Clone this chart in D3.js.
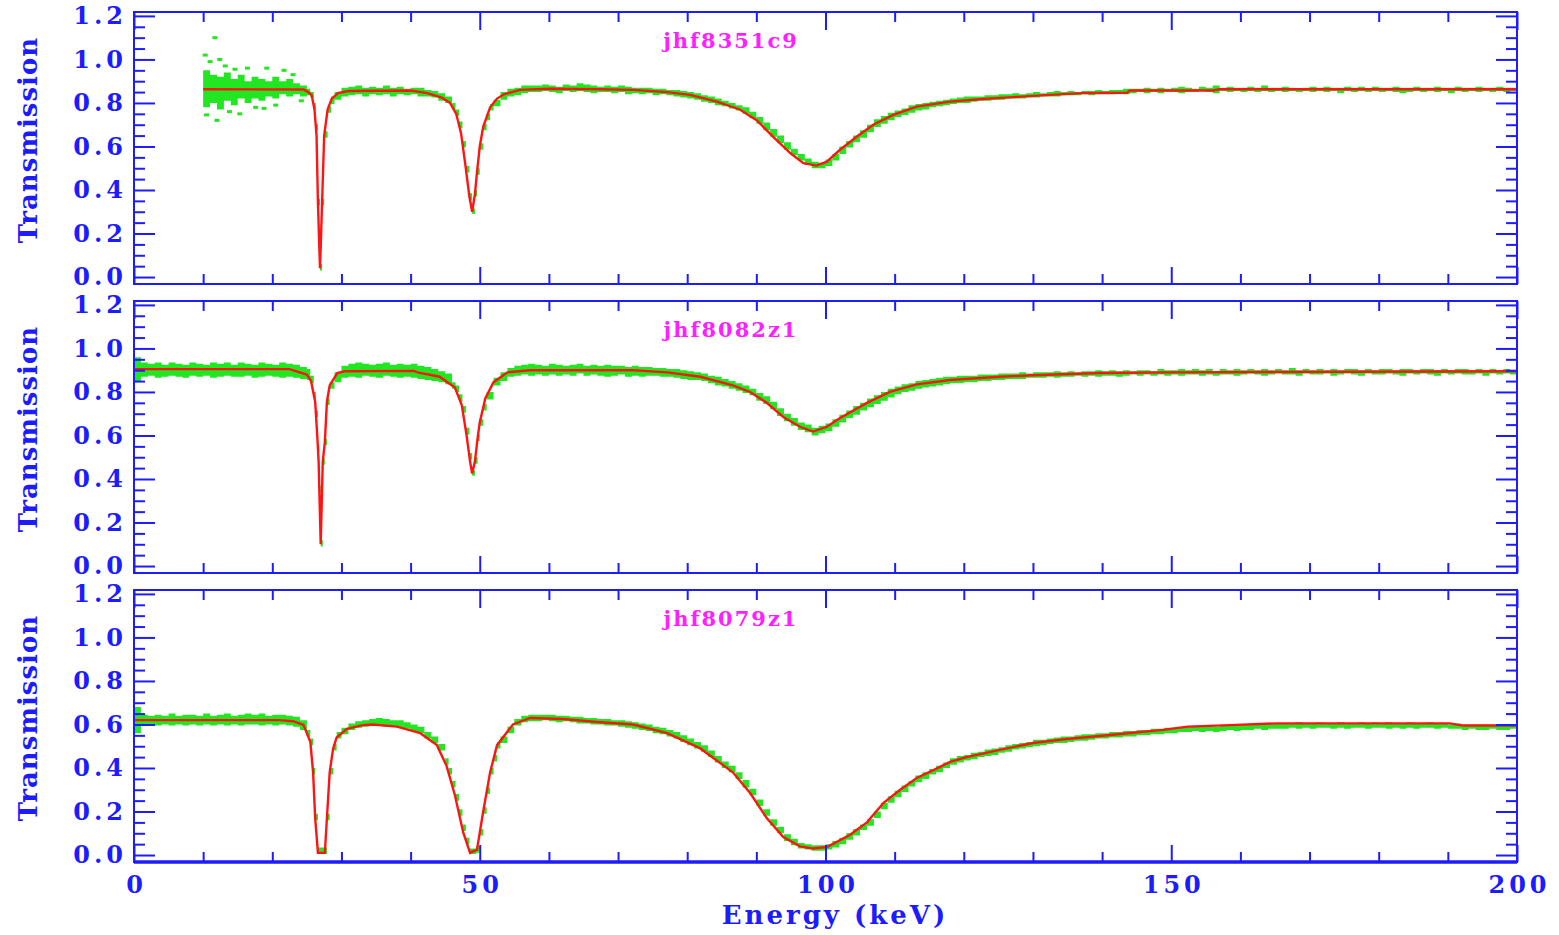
<!DOCTYPE html>
<html>
<head>
<meta charset="utf-8">
<script src="https://cdn.jsdelivr.net/npm/d3@7"></script>
<style>
body { margin: 0; background: #fff; }
svg { display: block; }
</style>
</head>
<body>
<script>

// tick labels and run names
var energyTicks = [0, 50, 100, 150, 200];
var transTicks = [0, 0.2, 0.4, 0.6, 0.8, 1.0, 1.2];
var runNames = ["jhf8351c9", "jhf8082z1", "jhf8079z1"];

// fitted model curves [energy keV, transmission]
var model1 = [[10,.863],[24.5,.862],[25.2,.85],[25.7,.835],[26.1,.77],[26.4,.65],[26.6,.34],[26.9,.04],[27.2,.34],[27.5,.65],[28.0,.77],[28.6,.82],[29.5,.845],[31,.855],[40,.857],[42.4,.845],[44.5,.825],[45.7,.80],[46.6,.75],[47.3,.66],[47.9,.52],[48.5,.37],[48.9,.30],[49.3,.38],[49.6,.48],[50,.60],[50.5,.69],[51.5,.78],[52.5,.82],[53.5,.84],[55.8,.86],[60,.865],[67.4,.863],[72.2,.86],[77.1,.85],[80.4,.837],[84.3,.806],[87.6,.77],[90.1,.72],[92.4,.645],[94.9,.57],[96.8,.523],[98.7,.512],[100.2,.53],[102.1,.585],[104.5,.645],[106.9,.70],[109.8,.745],[113.2,.783],[118,.806],[122.8,.818],[127.7,.828],[132.5,.837],[137.2,.845],[143.6,.847],[144,.857],[156,.857],[157,.863],[200,.863]];

var model2 = [[0,.905],[22.5,.905],[23.5,.895],[25.0,.88],[25.6,.85],[26.2,.755],[26.5,.60],[26.7,.48],[27.0,.10],[27.3,.48],[27.6,.57],[27.9,.755],[28.3,.83],[29.4,.887],[30.5,.895],[40.5,.897],[41,.89],[44.2,.87],[46.4,.82],[47.4,.74],[48.1,.60],[48.6,.48],[48.9,.425],[49.3,.48],[49.7,.59],[50.0,.66],[50.8,.77],[52,.845],[54,.89],[57.3,.90],[67.4,.90],[72.2,.90],[77.1,.89],[81.9,.87],[86.6,.83],[89.1,.80],[91.5,.75],[93.9,.685],[96.3,.64],[98.2,.618],[100.2,.64],[102.1,.68],[106,.75],[109.3,.80],[113.2,.835],[118,.855],[125.2,.87],[130,.877],[139.7,.887],[150,.89],[175,.893],[200,.895]];

var model3 = [[0,.62],[21,.62],[23,.615],[24.5,.598],[25.5,.52],[25.9,.38],[26.2,.17],[26.6,.01],[27.6,.01],[27.9,.17],[28.3,.38],[28.8,.49],[29.3,.54],[30.8,.58],[33.1,.597],[34.5,.60],[38,.59],[41.4,.56],[43.8,.505],[45.2,.41],[46.4,.276],[47.6,.105],[48.6,.01],[49.6,.025],[50.5,.20],[51.5,.38],[52.5,.505],[54.8,.60],[57.3,.63],[62,.625],[67.4,.61],[72.2,.60],[77.1,.56],[81.9,.49],[86.6,.38],[89.1,.285],[91.5,.17],[93.9,.083],[96.3,.04],[98.2,.03],[100.2,.037],[103.5,.092],[106,.15],[108.4,.24],[110.8,.30],[113.2,.354],[115.6,.39],[118,.428],[120.4,.45],[125.2,.483],[130,.515],[134.9,.533],[139.7,.547],[142.6,.556],[148.8,.575],[152.4,.59],[157.5,.596],[165.3,.605],[190.3,.605],[192.2,.595],[200,.595]];

// measured points: spread of the data at each energy [energy, low, high]
var band1 = [[10,.78,.95],[11,.80,.93],[12,.77,.92],[13,.81,.94],[14,.79,.91],[15,.82,.93],[16,.80,.90],[17,.82,.92],[18,.81,.91],[19,.83,.90],[20,.82,.92],[21,.84,.90],[22,.83,.91],[23,.84,.89],[24,.83,.88],[25,.835,.865],[25.5,.825,.85],[26,.77,.80],[26.3,.675,.705],[26.6,.33,.36],[26.9,.03,.06],[27.2,.33,.36],[27.5,.64,.67],[28,.755,.785],[28.5,.795,.83],[29,.815,.85],[30,.83,.87],[31,.835,.875],[32,.84,.88],[33,.83,.87],[34,.84,.875],[35,.835,.87],[36,.84,.88],[37,.83,.87],[38,.84,.875],[39,.835,.865],[40,.84,.87],[41,.83,.87],[42,.83,.86],[43,.825,.855],[44,.81,.845],[45,.80,.83],[46,.77,.80],[46.5,.74,.77],[47,.685,.715],[47.5,.595,.625],[48,.48,.51],[48.5,.355,.385],[48.9,.29,.315],[49.3,.37,.40],[49.6,.47,.50],[50,.585,.615],[50.5,.675,.705],[51,.72,.75],[51.5,.765,.795],[52,.785,.815],[53,.815,.85],[54,.83,.865],[55,.835,.87],[56,.845,.88],[57,.85,.88],[58,.85,.88],[59,.855,.885],[60,.85,.88],[61,.845,.875],[62,.855,.885],[63,.85,.88],[64,.855,.89],[65,.85,.885],[66,.845,.88],[67,.85,.875],[68,.85,.88],[69,.845,.875],[70,.85,.88],[71,.84,.875],[72,.845,.87],[73,.84,.87],[74,.845,.87],[75,.835,.865],[76,.84,.865],[77,.835,.86],[78,.83,.86],[79,.825,.855],[80,.82,.85],[81,.815,.845],[82,.805,.835],[83,.80,.83],[84,.79,.82],[85,.785,.81],[86,.775,.80],[87,.765,.79],[88,.75,.78],[89,.73,.76],[90,.705,.735],[91,.675,.71],[92,.645,.68],[93,.615,.65],[94,.585,.62],[95,.56,.59],[96,.535,.565],[97,.515,.545],[98,.50,.53],[99,.50,.525],[100,.51,.54],[101,.535,.565],[102,.565,.60],[103,.595,.625],[104,.62,.65],[105,.64,.675],[106,.665,.70],[107,.69,.725],[108,.705,.74],[109,.72,.755],[110,.735,.765],[111,.745,.775],[112,.755,.79],[113,.765,.795],[114,.77,.80],[115,.78,.805],[116,.785,.81],[117,.79,.815],[118,.795,.82],[119,.80,.825],[120,.80,.83],[121,.805,.83],[122,.81,.83],[123,.81,.835],[124,.815,.835],[125,.815,.84],[126,.82,.84],[127,.82,.845],[128,.82,.84],[129,.825,.845],[130,.825,.85],[131,.83,.845],[132,.83,.85],[133,.83,.855],[134,.835,.85],[135,.835,.855],[136,.835,.85],[137,.84,.855],[138,.835,.855],[139,.84,.86],[140,.84,.855],[141,.84,.86],[142,.845,.86],[143,.84,.865],[144,.845,.865],[145,.85,.865],[146,.845,.87],[147,.85,.865],[148,.845,.87],[149,.85,.865],[150,.85,.87],[151,.845,.875],[152,.85,.87],[153,.85,.865],[154,.855,.875],[155,.85,.87],[156,.845,.88],[157,.855,.87],[158,.85,.875],[159,.855,.87],[160,.85,.87],[161,.855,.875],[162,.85,.87],[163,.855,.88],[164,.85,.87],[165,.855,.87],[166,.85,.875],[167,.855,.87],[168,.85,.865],[169,.855,.87],[170,.85,.875],[171,.855,.87],[172,.85,.875],[173,.855,.87],[174,.845,.87],[175,.855,.875],[176,.85,.87],[177,.855,.875],[178,.85,.865],[179,.855,.875],[180,.85,.87],[181,.855,.87],[182,.85,.875],[183,.845,.87],[184,.85,.87],[185,.855,.875],[186,.85,.87],[187,.855,.87],[188,.85,.875],[189,.855,.87],[190,.845,.87],[191,.855,.875],[192,.85,.87],[193,.855,.87],[194,.85,.875],[195,.855,.87],[196,.85,.87],[197,.855,.875],[198,.85,.87],[199,.855,.87],[200,.85,.87]];

var band2 = [[0,.85,.96],[1,.87,.935],[2,.875,.93],[3,.865,.935],[4,.87,.925],[5,.875,.935],[6,.87,.93],[7,.865,.925],[8,.875,.935],[9,.87,.93],[10,.875,.925],[11,.865,.935],[12,.87,.93],[13,.875,.935],[14,.87,.925],[15,.87,.935],[16,.875,.93],[17,.865,.925],[18,.87,.935],[19,.875,.93],[20,.87,.925],[21,.865,.935],[22,.87,.93],[23,.865,.925],[24,.86,.915],[25,.855,.905],[25.5,.84,.875],[26,.77,.80],[26.3,.685,.715],[26.6,.525,.555],[26.8,.34,.37],[27.0,.09,.12],[27.3,.465,.495],[27.6,.555,.585],[27.9,.74,.77],[28.3,.815,.845],[29,.845,.89],[30,.865,.92],[31,.87,.93],[32,.865,.935],[33,.875,.93],[34,.87,.925],[35,.865,.93],[36,.875,.935],[37,.87,.925],[38,.865,.93],[39,.87,.925],[40,.865,.93],[41,.86,.92],[42,.855,.915],[43,.85,.905],[44,.845,.895],[45,.835,.885],[46,.815,.845],[46.5,.80,.83],[47,.755,.79],[47.5,.705,.735],[48,.605,.635],[48.5,.49,.52],[48.9,.415,.44],[49.3,.47,.50],[49.7,.575,.605],[50,.645,.675],[50.5,.715,.745],[51,.765,.80],[52,.83,.865],[53,.85,.89],[54,.87,.91],[55,.875,.92],[56,.88,.925],[57,.875,.93],[58,.88,.925],[59,.875,.92],[60,.88,.93],[61,.875,.925],[62,.88,.92],[63,.875,.925],[64,.885,.93],[65,.875,.92],[66,.88,.925],[67,.875,.92],[68,.87,.925],[69,.875,.92],[70,.88,.92],[71,.87,.915],[72,.875,.92],[73,.87,.915],[74,.875,.915],[75,.875,.91],[76,.87,.91],[77,.87,.905],[78,.865,.905],[79,.86,.90],[80,.855,.895],[81,.855,.89],[82,.85,.885],[83,.84,.875],[84,.83,.87],[85,.825,.86],[86,.815,.85],[87,.805,.84],[88,.795,.83],[89,.785,.815],[90,.76,.795],[91,.745,.78],[92,.72,.755],[93,.69,.725],[94,.665,.70],[95,.645,.68],[96,.625,.66],[97,.615,.65],[98,.60,.635],[99,.61,.645],[100,.62,.655],[101,.64,.675],[102,.66,.695],[103,.68,.715],[104,.695,.735],[105,.715,.75],[106,.73,.77],[107,.745,.785],[108,.76,.80],[109,.775,.815],[110,.79,.825],[111,.80,.835],[112,.805,.84],[113,.815,.85],[114,.82,.855],[115,.825,.86],[116,.83,.865],[117,.835,.87],[118,.84,.87],[119,.84,.875],[120,.845,.875],[121,.845,.875],[122,.85,.88],[123,.85,.88],[124,.855,.88],[125,.855,.885],[126,.86,.885],[127,.86,.885],[128,.86,.89],[129,.865,.885],[130,.865,.89],[131,.865,.89],[132,.87,.89],[133,.865,.895],[134,.87,.89],[135,.87,.895],[136,.875,.89],[137,.87,.895],[138,.875,.895],[139,.87,.90],[140,.875,.895],[141,.875,.90],[142,.87,.895],[143,.875,.90],[144,.88,.895],[145,.875,.90],[146,.88,.90],[147,.875,.895],[148,.88,.905],[149,.875,.90],[150,.88,.90],[151,.875,.905],[152,.88,.90],[153,.88,.905],[154,.875,.90],[155,.88,.905],[156,.875,.895],[157,.88,.905],[158,.88,.90],[159,.875,.905],[160,.88,.90],[161,.885,.905],[162,.88,.90],[163,.875,.905],[164,.88,.90],[165,.885,.905],[166,.88,.90],[167,.88,.91],[168,.875,.90],[169,.885,.905],[170,.88,.90],[171,.88,.905],[172,.885,.90],[173,.875,.905],[174,.88,.90],[175,.885,.905],[176,.88,.905],[177,.875,.90],[178,.885,.905],[179,.88,.90],[180,.88,.905],[181,.885,.905],[182,.88,.90],[183,.875,.905],[184,.885,.905],[185,.88,.90],[186,.885,.905],[187,.88,.905],[188,.875,.90],[189,.885,.905],[190,.88,.90],[191,.885,.905],[192,.88,.905],[193,.88,.90],[194,.885,.905],[195,.875,.90],[196,.885,.905],[197,.88,.90],[198,.885,.905],[199,.88,.90],[200,.88,.905]];

var band3 = [[0,.56,.68],[1,.595,.645],[2,.60,.64],[3,.595,.645],[4,.60,.64],[5,.595,.65],[6,.60,.64],[7,.595,.645],[8,.60,.645],[9,.595,.64],[10,.60,.65],[11,.595,.64],[12,.60,.645],[13,.595,.65],[14,.60,.64],[15,.595,.645],[16,.60,.65],[17,.60,.645],[18,.595,.65],[19,.60,.64],[20,.595,.645],[21,.60,.645],[22,.595,.64],[23,.59,.635],[24,.575,.62],[25,.545,.575],[25.5,.505,.535],[25.9,.37,.40],[26.2,.16,.19],[26.6,.005,.035],[27.0,.005,.035],[27.4,.005,.035],[27.9,.16,.19],[28.3,.37,.40],[28.8,.48,.51],[29.3,.535,.565],[30,.555,.585],[31,.575,.605],[32,.585,.615],[33,.59,.62],[34,.595,.625],[35,.595,.63],[36,.59,.625],[37,.59,.62],[38,.585,.62],[39,.58,.61],[40,.57,.60],[41,.56,.59],[42,.535,.565],[43,.515,.545],[44,.48,.51],[45,.415,.445],[45.5,.37,.40],[46,.31,.34],[46.5,.25,.28],[47,.18,.21],[47.5,.11,.14],[48,.05,.08],[48.5,.005,.03],[49,.005,.03],[49.5,.01,.04],[50,.09,.12],[50.5,.19,.22],[51,.28,.31],[51.5,.37,.40],[52,.43,.46],[52.5,.49,.52],[53,.515,.545],[54,.56,.59],[55,.595,.625],[56,.61,.64],[57,.615,.645],[58,.615,.645],[59,.62,.645],[60,.615,.645],[61,.61,.64],[62,.615,.64],[63,.61,.635],[64,.605,.635],[65,.605,.63],[66,.60,.63],[67,.60,.625],[68,.595,.625],[69,.595,.62],[70,.59,.62],[71,.585,.615],[72,.58,.61],[73,.575,.605],[74,.57,.60],[75,.56,.59],[76,.555,.585],[77,.545,.575],[78,.535,.565],[79,.52,.55],[80,.505,.535],[81,.49,.52],[82,.475,.505],[83,.45,.48],[84,.425,.455],[85,.40,.43],[86,.38,.41],[87,.35,.38],[88,.31,.345],[89,.275,.305],[90,.225,.255],[91,.18,.21],[92,.135,.165],[93,.10,.13],[94,.065,.095],[95,.045,.075],[96,.03,.055],[97,.025,.05],[98,.02,.045],[99,.02,.045],[100,.025,.05],[101,.035,.065],[102,.05,.08],[103,.07,.10],[104,.09,.12],[105,.115,.14],[106,.135,.165],[107,.17,.20],[108,.21,.24],[109,.24,.27],[110,.265,.295],[111,.29,.32],[112,.315,.34],[113,.335,.365],[114,.35,.38],[115,.37,.395],[116,.38,.41],[117,.40,.425],[118,.415,.445],[119,.425,.455],[120,.435,.46],[121,.44,.47],[122,.45,.475],[123,.455,.485],[124,.46,.49],[125,.47,.495],[126,.475,.505],[127,.485,.51],[128,.49,.515],[129,.495,.52],[130,.50,.53],[131,.505,.53],[132,.51,.535],[133,.515,.54],[134,.515,.545],[135,.52,.545],[136,.525,.55],[137,.525,.555],[138,.53,.555],[139,.535,.56],[140,.535,.56],[141,.54,.565],[142,.54,.565],[143,.545,.57],[144,.545,.57],[145,.55,.575],[146,.55,.575],[147,.555,.58],[148,.555,.58],[149,.56,.585],[150,.56,.585],[151,.565,.585],[152,.565,.59],[153,.57,.59],[154,.565,.59],[155,.57,.595],[156,.565,.59],[157,.57,.595],[158,.575,.595],[159,.57,.60],[160,.575,.60],[161,.575,.60],[162,.58,.60],[163,.575,.60],[164,.58,.605],[165,.58,.605],[166,.58,.605],[167,.585,.605],[168,.58,.61],[169,.585,.605],[170,.58,.605],[171,.585,.61],[172,.585,.605],[173,.58,.605],[174,.585,.61],[175,.58,.605],[176,.585,.605],[177,.585,.61],[178,.58,.605],[179,.585,.61],[180,.585,.605],[181,.58,.61],[182,.585,.605],[183,.58,.605],[184,.585,.61],[185,.58,.605],[186,.585,.605],[187,.585,.61],[188,.58,.605],[189,.585,.605],[190,.58,.60],[191,.58,.605],[192,.575,.60],[193,.58,.60],[194,.575,.60],[195,.575,.60],[196,.58,.60],[197,.575,.595],[198,.575,.60],[199,.58,.60],[200,.575,.60]];

// isolated noisy points at low energy in the first run
var scatter1 = [[10.3,1.02],[10.5,.745],[11.7,1.10],[12,.72],[12.4,1.0],[13.2,.97],[13.8,.76],[15.3,.75],[16.4,.96],[17.6,.78],[19.2,.96],[20.5,.79],[21.7,.95],[23,.93],[24.2,.81],[11,.99],[14.6,.955],[18.8,.775]];

var width = 1559,
    height = 935,
    left = 134,
    right = 1517,
    panelH = 272;

var panelTop = [12, 301, 590];

var blue = "#1c1cff",
    green = "#22e622",
    red = "#ff1414",
    magenta = "#ff20ff",
    font = "'DejaVu Serif', serif";

const svg = d3.select("body")
    .append("svg")
    .attr("width", width)
    .attr("height", height);

const x = d3.scaleLinear().domain([0, 200]).range([left, right]);

var minorX = d3.range(0, 201, 10).filter(d => d % 50 != 0);
var minorY = d3.range(0, 25).map(d => d * 0.05).filter((d, i) => i % 4 != 0);

var panels = [
    {name: runNames[0], model: model1, band: band1, extra: scatter1},
    {name: runNames[1], model: model2, band: band2, extra: []},
    {name: runNames[2], model: model3, band: band3, extra: []}
];

function styleTicks(g) {
    g.select(".domain").remove();
    g.selectAll("line").attr("stroke", blue).attr("stroke-width", 2);
}

function styleLabels(g) {
    g.select(".domain").remove();
    g.selectAll("line").remove();
    g.selectAll("text")
        .style("font-family", font)
        .style("font-size", "24px")
        .style("font-weight", "bold")
        .style("letter-spacing", "4px")
        .attr("fill", blue);
}

panels.forEach(function(p, i) {
    var top = panelTop[i],
        bottom = top + panelH;

    const y = d3.scaleLinear().domain([-0.032, 1.218]).range([bottom, top]);
    const g = svg.append("g");

    g.append("clipPath").attr("id", "clip" + i)
        .append("rect")
        .attr("x", left).attr("y", top)
        .attr("width", right - left).attr("height", panelH);

    const plot = g.append("g").attr("clip-path", "url(#clip" + i + ")");

    // data spread
    const area = d3.area()
        .curve(d3.curveStepAfter)
        .x(d => x(d[0]))
        .y0(d => y(d[1]))
        .y1(d => y(d[2]));

    plot.append("path")
        .datum(p.band)
        .attr("d", area)
        .attr("fill", green);

    plot.selectAll("rect.pt")
        .data(p.extra)
        .join("rect")
        .attr("class", "pt")
        .attr("x", d => x(d[0]) - 2.5)
        .attr("y", d => y(d[1]) - 1.5)
        .attr("width", 5)
        .attr("height", 3)
        .attr("fill", green);

    // model
    const line = d3.line()
        .x(d => x(d[0]))
        .y(d => y(d[1]));

    plot.append("path")
        .datum(p.model)
        .attr("d", line)
        .attr("fill", "none")
        .attr("stroke", red)
        .attr("stroke-width", 2.4);

    // ticks on all four sides, pointing in
    g.append("g").attr("transform", `translate(${left},0)`)
        .call(d3.axisRight(y).tickValues(minorY).tickSize(11).tickFormat(""))
        .call(styleTicks);
    g.append("g").attr("transform", `translate(${left},0)`)
        .call(d3.axisRight(y).tickValues(transTicks).tickSize(21).tickFormat(""))
        .call(styleTicks);
    g.append("g").attr("transform", `translate(${right},0)`)
        .call(d3.axisLeft(y).tickValues(minorY).tickSize(11).tickFormat(""))
        .call(styleTicks);
    g.append("g").attr("transform", `translate(${right},0)`)
        .call(d3.axisLeft(y).tickValues(transTicks).tickSize(21).tickFormat(""))
        .call(styleTicks);
    g.append("g").attr("transform", `translate(0,${top})`)
        .call(d3.axisBottom(x).tickValues(minorX).tickSize(10).tickFormat(""))
        .call(styleTicks);
    g.append("g").attr("transform", `translate(0,${top})`)
        .call(d3.axisBottom(x).tickValues(energyTicks).tickSize(18).tickFormat(""))
        .call(styleTicks);
    g.append("g").attr("transform", `translate(0,${bottom})`)
        .call(d3.axisTop(x).tickValues(minorX).tickSize(10).tickFormat(""))
        .call(styleTicks);
    g.append("g").attr("transform", `translate(0,${bottom})`)
        .call(d3.axisTop(x).tickValues(energyTicks).tickSize(17).tickFormat(""))
        .call(styleTicks);

    // frame
    g.append("rect")
        .attr("x", left).attr("y", top)
        .attr("width", right - left).attr("height", panelH)
        .attr("fill", "none")
        .attr("stroke", blue)
        .attr("stroke-width", 2);

    // y tick labels
    g.append("g").attr("transform", `translate(${left},0)`)
        .call(d3.axisLeft(y).tickValues(transTicks).tickSize(0).tickPadding(7).tickFormat(d3.format(".1f")))
        .call(styleLabels);

    g.append("text")
        .attr("transform", `translate(37,${top + 128}) rotate(-90)`)
        .attr("text-anchor", "middle")
        .style("font-family", font)
        .style("font-size", "26px")
        .style("font-weight", "bold")
        .style("letter-spacing", "1px")
        .attr("fill", blue)
        .text("Transmission");

    g.append("text")
        .attr("x", 731)
        .attr("y", top + 36)
        .attr("text-anchor", "middle")
        .style("font-family", font)
        .style("font-size", "21px")
        .style("font-weight", "bold")
        .style("letter-spacing", "2px")
        .attr("fill", magenta)
        .text(p.name);

    if (i == panels.length - 1) {
        g.append("line")
            .attr("x1", left).attr("x2", right)
            .attr("y1", bottom).attr("y2", bottom)
            .attr("stroke", blue).attr("stroke-width", 3.5);

        g.append("g").attr("transform", `translate(0,${bottom})`)
            .call(d3.axisBottom(x).tickValues(energyTicks).tickSize(0).tickPadding(14).tickFormat(d3.format("d")))
            .call(styleLabels)
            .selectAll("text").attr("dx", 2);

        g.append("text")
            .attr("x", 835)
            .attr("y", 924)
            .attr("text-anchor", "middle")
            .style("font-family", font)
            .style("font-size", "26px")
            .style("font-weight", "bold")
            .style("letter-spacing", "3px")
            .attr("fill", blue)
            .text("Energy (keV)");
    }
});

</script>
</body>
</html>
